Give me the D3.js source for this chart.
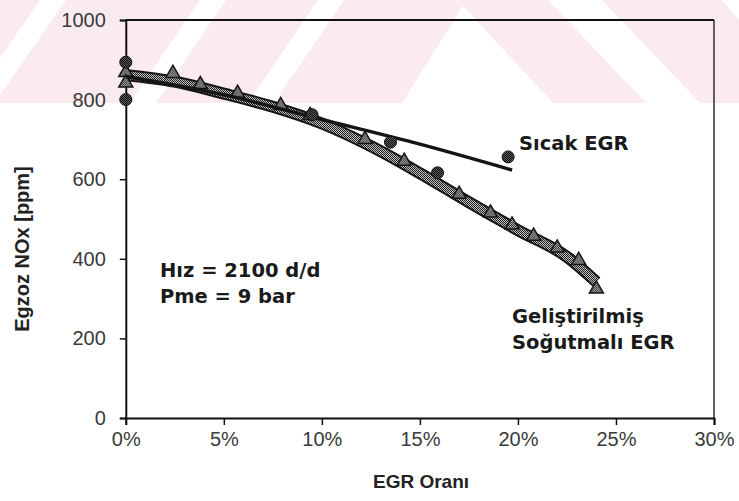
<!DOCTYPE html>
<html>
<head>
<meta charset="utf-8">
<script src="https://cdn.jsdelivr.net/npm/d3@7"></script>
<style>
  html, body { margin: 0; padding: 0; background: #fff; }
  svg { display: block; }
</style>
</head>
<body>
<svg id="chart" width="739" height="501"></svg>
<script>
// Axis ticks
const egrTicks = [0, 5, 10, 15, 20, 25, 30];
const noxTicks = [0, 200, 400, 600, 800, 1000];

// Sıcak EGR measurements (EGR %, NOx ppm)
const hotEgr = [0, 0, 9.5, 13.5, 15.9, 19.5];
const hotNox = [800, 894, 762, 693, 616, 656];
// Sıcak EGR trend line
const hotFitEgr = [0, 5, 10, 15, 19.7];
const hotFitNox = [858, 812, 750, 688, 623];

// Geliştirilmiş soğutmalı EGR measurements
const coolEgr = [0, 0, 2.4, 3.8, 5.7, 7.9, 9.4, 12.2, 14.2, 17.0, 18.6, 19.7, 20.8, 22.0, 23.1, 24.0];
const coolNox = [868, 842, 866, 838, 816, 785, 760, 700, 645, 562, 515, 485, 457, 427, 396, 324];
// Soğutmalı EGR trend line
const coolFitEgr = [0, 2.5, 5, 7.5, 10, 12.5, 15, 17.5, 20, 22.5, 24];
const coolFitNox = [862, 845, 815, 782, 740, 683, 615, 542, 472, 405, 342];

const svg = d3.select("#chart");
const W = 739;
const m = { left: 125.8, right: 714, top: 20, bottom: 418 };

// Pale banner stripes behind the top of the figure
const band = svg.append("g");
band.append("rect").attr("x", 0).attr("y", 0).attr("width", W).attr("height", 103).attr("fill", "#fcebee");
const whiteBands = [
  [[40, 0], [66, 0], [0, 95], [0, 58]],
  [[200, 0], [226, 0], [156, 103], [130, 103]],
  [[318, 0], [344, 0], [274, 103], [248, 103]],
  [[463, 6], [553, 103], [402, 103]],
  [[548, 0], [602, 0], [700, 103], [646, 103]],
  [[722, 0], [739, 0], [739, 20]]
];
band.selectAll("polygon").data(whiteBands).join("polygon")
  .attr("points", d => d.map(p => p.join(",")).join(" "))
  .attr("fill", "#ffffff");

// Halftone fills
const defs = svg.append("defs");
function halftone(id, a, b) {
  const p = defs.append("pattern").attr("id", id).attr("width", 2).attr("height", 2)
    .attr("patternUnits", "userSpaceOnUse");
  p.append("rect").attr("width", 2).attr("height", 2).attr("fill", b);
  p.append("rect").attr("width", 1).attr("height", 1).attr("fill", a);
  p.append("rect").attr("x", 1).attr("y", 1).attr("width", 1).attr("height", 1).attr("fill", a);
}
halftone("htGray", "#1c1c1c", "#c4c4c4");
halftone("htDark", "#0e0e0e", "#5a5a5a");

const x = d3.scaleLinear().domain([0, 30]).range([m.left, m.right]);
const y = d3.scaleLinear().domain([0, 1000]).range([m.bottom, m.top]);

// Frame
svg.append("line").attr("x1", m.left).attr("x2", m.right).attr("y1", m.top).attr("y2", m.top)
  .attr("stroke", "#111").attr("stroke-width", 2);
svg.append("line").attr("x1", m.right).attr("x2", m.right).attr("y1", m.top).attr("y2", m.bottom)
  .attr("stroke", "#111").attr("stroke-width", 1.3);

// Axes
const yAxis = svg.append("g").attr("transform", `translate(${m.left},0)`)
  .call(d3.axisLeft(y).tickValues(noxTicks).tickSize(6).tickPadding(14).tickFormat(d3.format("d")));
const xAxis = svg.append("g").attr("transform", `translate(0,${m.bottom})`)
  .call(d3.axisBottom(x).tickValues(egrTicks).tickSize(7).tickPadding(7).tickFormat(d => d + "%"));
[yAxis, xAxis].forEach(g => {
  g.select(".domain").attr("stroke", "#111").attr("stroke-width", 2);
  g.selectAll(".tick line").attr("stroke", "#111").attr("stroke-width", 1.5);
  g.selectAll(".tick text").attr("fill", "#3a3a3a")
    .style("font-family", "'Liberation Sans', Arial, sans-serif").style("font-size", "20px");
});

// Axis titles
svg.append("text").attr("x", 421).attr("y", 488).attr("text-anchor", "middle")
  .style("font-family", "'Liberation Sans', Arial, sans-serif").style("font-size", "19px")
  .style("font-weight", "bold").attr("fill", "#222").text("EGR Oranı");
svg.append("text").attr("transform", "translate(29,249) rotate(-90)").attr("text-anchor", "middle")
  .style("font-family", "'Liberation Sans', Arial, sans-serif").style("font-size", "20px")
  .style("font-weight", "bold").attr("fill", "#222").text("Egzoz NOx [ppm]");

const line = d3.line().x(d => x(d[0])).y(d => y(d[1])).curve(d3.curveMonotoneX);

// Cooled EGR: thick halftone band with triangle markers
const coolFit = coolFitEgr.map((e, i) => [e, coolFitNox[i]]);
const coolPts = coolEgr.map((e, i) => [e, coolNox[i]]);
svg.append("path").attr("d", line(coolFit)).attr("fill", "none")
  .attr("stroke", "#151515").attr("stroke-width", 12).attr("stroke-linecap", "butt");
svg.append("path").attr("d", line(coolFit)).attr("fill", "none")
  .attr("stroke", "url(#htGray)").attr("stroke-width", 8).attr("stroke-linecap", "butt");
const tri = d3.symbol().type(d3.symbolTriangle).size(85);
svg.append("g").selectAll("path").data(coolPts).join("path")
  .attr("transform", d => `translate(${x(d[0])},${y(d[1])})`)
  .attr("d", tri).attr("fill", "url(#htGray)").attr("stroke", "#151515").attr("stroke-width", 1.5);

// Hot EGR: trend line and circle markers
const hotFit = hotFitEgr.map((e, i) => [e, hotFitNox[i]]);
const hotPts = hotEgr.map((e, i) => [e, hotNox[i]]);
svg.append("path").attr("d", line(hotFit)).attr("fill", "none")
  .attr("stroke", "#151515").attr("stroke-width", 3.5);
svg.append("g").selectAll("circle").data(hotPts).join("circle")
  .attr("cx", d => x(d[0])).attr("cy", d => y(d[1])).attr("r", 6)
  .attr("fill", "url(#htDark)").attr("stroke", "#111").attr("stroke-width", 1);

// Annotations
const ann = svg.append("g").style("font-family", "'DejaVu Sans', Verdana, sans-serif")
  .style("font-weight", "bold").style("font-size", "19.5px").attr("fill", "#1a1a1a");
ann.append("text").attr("x", 519).attr("y", 150).text("Sıcak EGR");
ann.append("text").attr("x", 512).attr("y", 323).text("Geliştirilmiş");
ann.append("text").attr("x", 512).attr("y", 349).text("Soğutmalı EGR");
ann.append("text").attr("x", 160).attr("y", 277).text("Hız = 2100 d/d");
ann.append("text").attr("x", 160).attr("y", 303).text("Pme = 9 bar");
</script>
</body>
</html>
